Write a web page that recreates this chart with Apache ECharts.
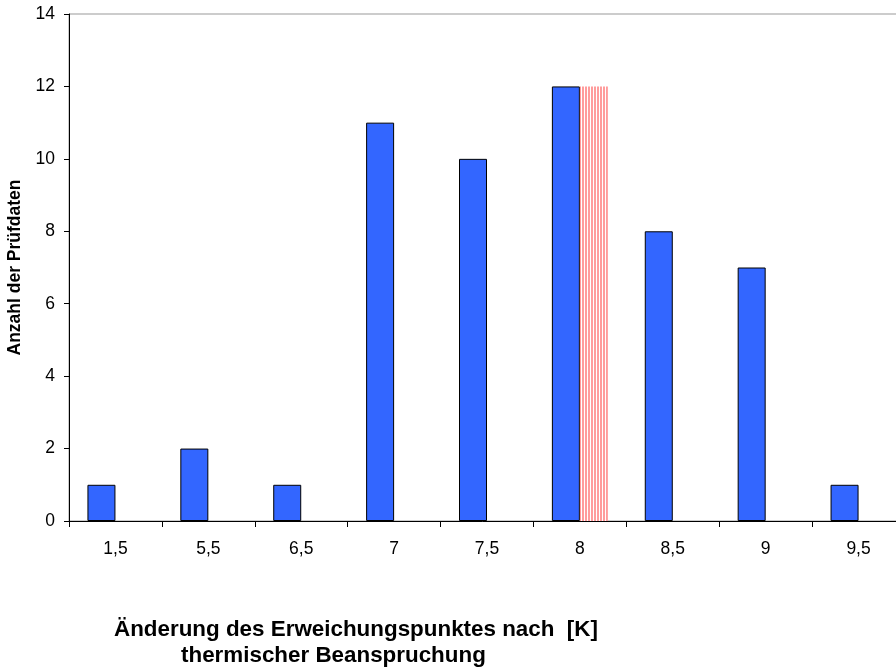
<!DOCTYPE html>
<html><head><meta charset="utf-8">
<script src="https://cdn.jsdelivr.net/npm/echarts@6/dist/echarts.min.js"></script>
<style>html,body{margin:0;padding:0;background:#fff}#c{width:896px;height:669px}</style>
</head><body><div id="c"></div>
<script>
const categories = ['1,5','5,5','6,5','7','7,5','8','8,5','9','9,5'];
const countValues = [1,2,1,11,10,12,8,7,1];
const markedValues = [null,null,null,null,null,12,null,null,null];
const yTicks = {min:0, max:14, interval:2};

const pc = document.createElement('canvas');
pc.width = 3; pc.height = 4;
const pctx = pc.getContext('2d');
pctx.fillStyle = '#ffffff'; pctx.fillRect(0,0,3,4);
pctx.fillStyle = '#ff9c9c'; pctx.fillRect(0,0,2,4);

const chart = echarts.init(document.getElementById('c'), null, {renderer:'canvas'});
const font = 'Liberation Sans, Arial, sans-serif';
chart.setOption({
  animation:false,
  grid:{left:69, right:-9, top:14, bottom:148, containLabel:false, outerBoundsMode:'none',
    show:true, borderColor:'#999', borderWidth:1},
  xAxis:{type:'category', data:categories,
    axisLine:{lineStyle:{color:'#000', width:1}},
    axisTick:{show:true, length:6, lineStyle:{color:'#000'}},
    axisLabel:{color:'#000', fontSize:17.5, fontFamily:font, margin:19}},
  yAxis:{type:'value', min:yTicks.min, max:yTicks.max, interval:yTicks.interval,
    name:'Anzahl der Prüfdaten', nameLocation:'middle', nameGap:44,
    nameTextStyle:{color:'#000', fontWeight:'bold', fontSize:17.5, fontFamily:font},
    axisLine:{show:true, lineStyle:{color:'#000'}},
    axisTick:{show:true, length:5, lineStyle:{color:'#000'}},
    splitLine:{show:false},
    axisLabel:{color:'#000', fontSize:17.5, fontFamily:font, margin:14}},
  series:[
    {type:'bar', data:countValues, barWidth:28, barGap:'0%',
     itemStyle:{color:'#3366ff', borderColor:'#000', borderWidth:1}},
    {type:'bar', data:markedValues, barWidth:28, barGap:'0%',
     itemStyle:{color:{image:pc, repeat:'repeat'}, borderWidth:0}}
  ],
  graphic:[
    {type:'text', left:114, top:619, style:{text:'Änderung des Erweichungspunktes nach  [K]', font:'bold 22.4px '+font, fill:'#000'}},
    {type:'text', left:181, top:645, style:{text:'thermischer Beanspruchung', font:'bold 22.4px '+font, fill:'#000'}}
  ]
});
</script></body></html>
